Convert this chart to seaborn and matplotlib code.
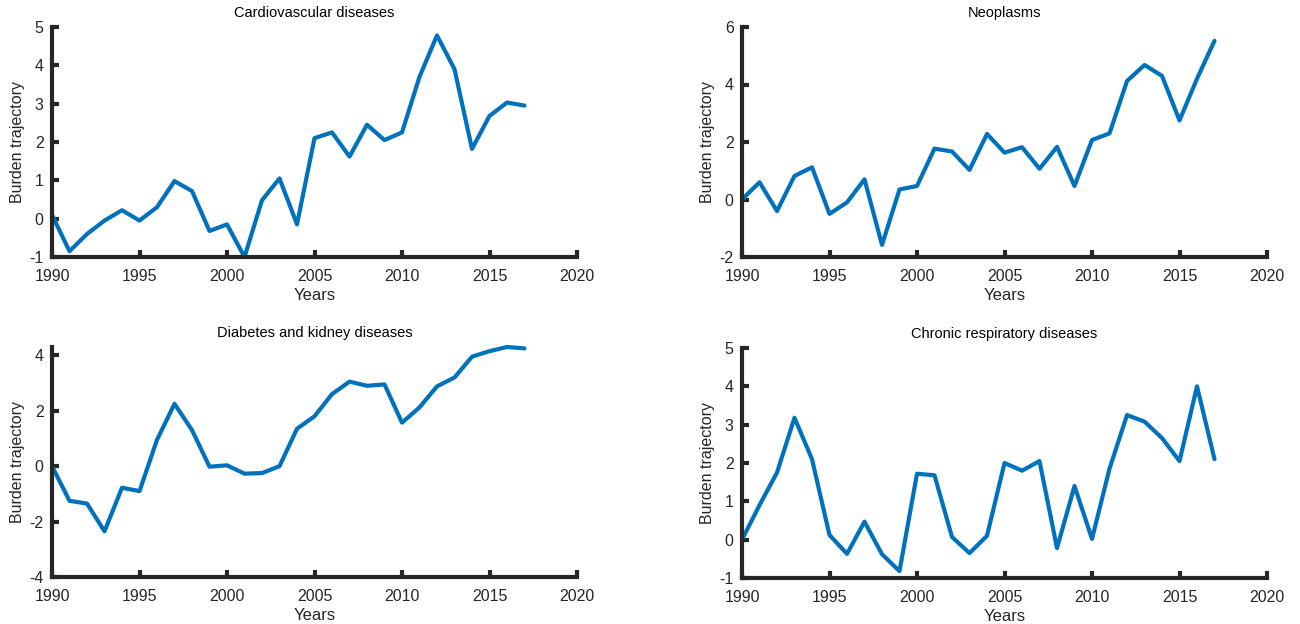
import numpy as np
import pandas as pd
import matplotlib
matplotlib.use("Agg")
import matplotlib.pyplot as plt
import seaborn as sns

years = list(range(1990, 2018))

cardiovascular = [0.10, -0.85, -0.40, -0.05, 0.22, -0.05, 0.30, 0.98, 0.72, -0.32,
                  -0.15, -1.00, 0.48, 1.05, -0.15, 2.10, 2.25, 1.62, 2.45, 2.05,
                  2.25, 3.70, 4.78, 3.90, 1.82, 2.68, 3.03, 2.95]
neoplasms = [0.00, 0.60, -0.40, 0.82, 1.12, -0.50, -0.10, 0.70, -1.58, 0.35,
             0.47, 1.77, 1.67, 1.03, 2.28, 1.63, 1.82, 1.07, 1.83, 0.47,
             2.07, 2.30, 4.12, 4.68, 4.30, 2.75, 4.20, 5.52]
diabetes = [0.00, -1.25, -1.35, -2.35, -0.78, -0.90, 0.95, 2.25, 1.30, -0.02,
            0.03, -0.27, -0.25, 0.00, 1.35, 1.80, 2.60, 3.05, 2.90, 2.95,
            1.57, 2.12, 2.88, 3.20, 3.95, 4.15, 4.30, 4.25]
respiratory = [0.00, 0.90, 1.75, 3.18, 2.10, 0.12, -0.37, 0.47, -0.38, -0.82,
               1.72, 1.68, 0.07, -0.35, 0.10, 2.00, 1.80, 2.05, -0.22, 1.40,
               0.02, 1.85, 3.25, 3.08, 2.65, 2.05, 4.00, 2.10]

titles = ["Cardiovascular diseases", "Neoplasms",
          "Diabetes and kidney diseases", "Chronic respiratory diseases"]
series = [cardiovascular, neoplasms, diabetes, respiratory]
ylims = [(-1, 5), (-2, 6), (-4, 4.3), (-1, 5)]
yticks = [list(range(-1, 6)), list(range(-2, 7, 2)), list(range(-4, 5, 2)), list(range(-1, 6))]
xticks = list(range(1990, 2021, 5))

sns.set_theme(style="ticks")
plt.rcParams['font.family'] = ['Liberation Sans', 'DejaVu Sans']

fig = plt.figure(figsize=(13, 6.24), dpi=100)
W, H = 1300, 624
boxes = [
    (52, 27, 577, 257),
    (742, 27, 1267, 257),
    (52, 347, 577, 577),
    (742, 348, 1267, 578),
]
dark = "#262626"
for i, (x0, y0, x1, y1) in enumerate(boxes):
    ax = fig.add_axes([x0 / W, 1 - y1 / H, (x1 - x0) / W, (y1 - y0) / H])
    df = pd.DataFrame({"Years": years, "Burden trajectory": series[i]})
    sns.lineplot(data=df, x="Years", y="Burden trajectory", ax=ax,
                 color="#0072BD", linewidth=3.0)
    ax.set_xlim(1990, 2020)
    ax.set_ylim(*ylims[i])
    ax.set_xticks(xticks)
    ax.set_yticks(yticks[i])
    ax.set_xticklabels([str(t) for t in xticks])
    ax.set_yticklabels([str(t) for t in yticks[i]])
    for s in ["top", "right"]:
        ax.spines[s].set_visible(False)
    for s in ["left", "bottom"]:
        ax.spines[s].set_linewidth(3.0)
        ax.spines[s].set_color(dark)
        ax.spines[s].set_capstyle("projecting")
    ax.tick_params(axis="both", direction="in", length=5, width=3.0,
                   color=dark, labelcolor=dark, labelsize=11.5)
    ax.tick_params(axis="x", pad=8.5)
    ax.tick_params(axis="y", pad=6)
    ax.set_xlabel("Years", fontsize=12, color=dark, labelpad=3)
    ax.set_ylabel("Burden trajectory", fontsize=11.5, color=dark)
    ax.yaxis.set_label_coords(-0.051, 0.5)
    ax.set_title(titles[i], fontsize=10.5, color="black", pad=7)
    ax.set_facecolor("white")
    for line in ax.lines:
        line.set_clip_on(False)

fig.savefig("out.png", dpi=100, facecolor="white")
